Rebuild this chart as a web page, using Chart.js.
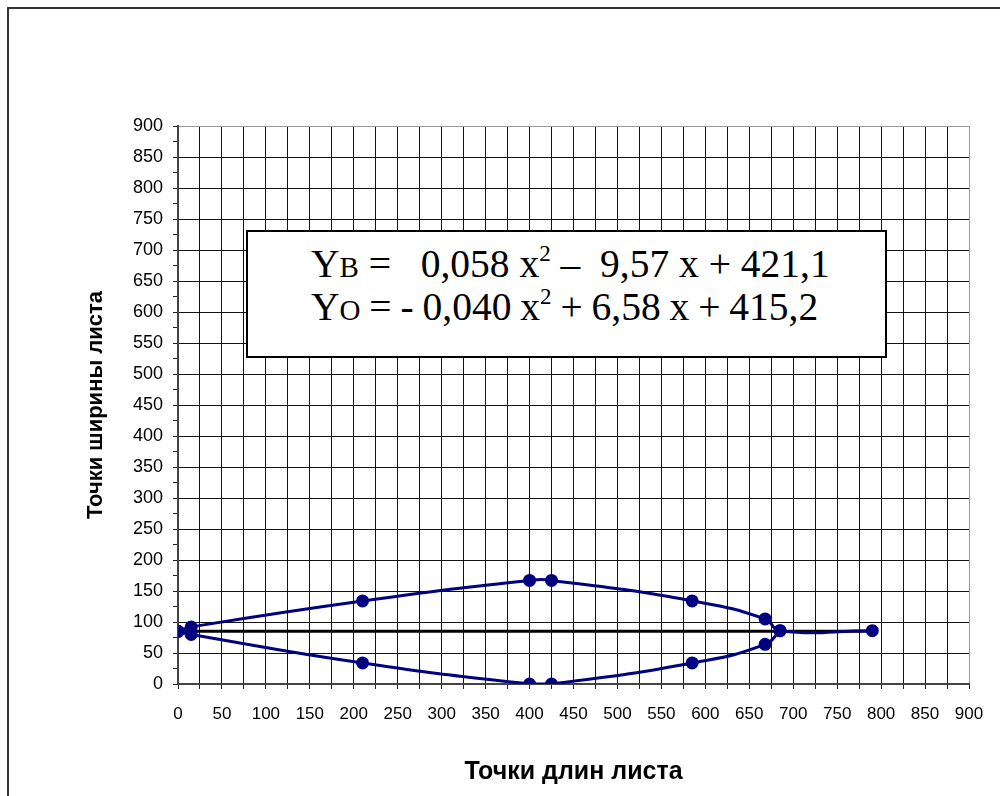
<!DOCTYPE html>
<html>
<head>
<meta charset="utf-8">
<script src="https://cdn.jsdelivr.net/npm/chart.js@4.4.0/dist/chart.umd.min.js"></script>
<style>
  body { margin: 0; background: #fff; }
  #wrap { position: relative; width: 1000px; height: 796px; overflow: hidden; }
  #frame { position: absolute; left: 7px; top: 7px; width: 1100px; height: 900px;
           border-left: 2px solid #333; border-top: 2px solid #333; }
  #eq { position: absolute; left: 246px; top: 230px; width: 637px; height: 124px;
        border: 2px solid #000; background: #fff; color: #000;
        font-family: "Liberation Serif", "Times New Roman", serif; font-size: 39.5px; }
  #eq .ln { position: absolute; left: 63px; white-space: pre; line-height: 1; }
  #eq .sc { font-size: 29px; }
  #eq sup { font-size: 23px; vertical-align: 16px; line-height: 0; }
</style>
</head>
<body>
<div id="wrap">
  <div id="frame"></div>
  <canvas id="myChart" width="1000" height="796"></canvas>
  <div id="eq">
    <div class="ln" style="top:13px">Y<span class="sc">В</span> =   0,058 x<sup>2</sup> –  9,57 x + 421,1</div>
    <div class="ln" style="top:56px;word-spacing:-1px">Y<span class="sc">О</span> = - 0,040 x<sup>2</sup> + 6,58 x + 415,2</div>
  </div>
</div>
<script>
// upper edge of the leaf (Yв)
var upperX = [0, 15, 210, 400, 425, 585, 668, 685, 790];
var upperY = [85, 92, 134, 167, 167, 134, 105, 86, 86];
// lower edge of the leaf (Yо)
var lowerX = [0, 15, 210, 400, 425, 585, 668, 685];
var lowerY = [85, 80, 34, 0, 0, 34, 64, 86];
// middle axis line
var axisX = [0, 790];
var axisY = [85, 85];

function pts(xs, ys) {
  var out = [];
  for (var i = 0; i < xs.length; i++) out.push({x: xs[i], y: ys[i]});
  return out;
}

new Chart("myChart", {
  type: "scatter",
  data: {
    datasets: [
      {
        data: pts(upperX, upperY),
        showLine: true, tension: 0.5,
        borderColor: "#000080", backgroundColor: "#000080",
        borderWidth: 3, pointRadius: 5, pointHoverRadius: 5
      },
      {
        data: pts(lowerX, lowerY),
        showLine: true, tension: 0.5,
        borderColor: "#000080", backgroundColor: "#000080",
        borderWidth: 3, pointRadius: 5, pointHoverRadius: 5
      },
      {
        data: pts(axisX, axisY),
        showLine: true, tension: 0,
        borderColor: "#000", borderWidth: 3, pointRadius: 0
      }
    ]
  },
  options: {
    responsive: false,
    animation: false,
    layout: { padding: { left: 0, right: 31, top: 126, bottom: 0 } },
    plugins: { legend: { display: false }, tooltip: { enabled: false } },
    scales: {
      x: {
        min: 0, max: 900,
        afterFit: function (s) { s.height = 112; },
        ticks: {
          stepSize: 25, autoSkip: false, maxRotation: 0, padding: 15,
          color: "#000", font: { family: "Liberation Sans", size: 17 },
          callback: function (v) { return v % 50 === 0 ? v : ""; }
        },
        grid: {
          color: function (c) { return c.tick && c.tick.value === 900 ? "#999" : "#111"; },
          tickColor: "#222", tickLength: 5
        },
        border: { color: "#444", width: 2 },
        title: {
          display: true, text: "Точки длин листа", color: "#000",
          font: { family: "Liberation Sans", size: 25, weight: "bold" },
          padding: { top: 0, bottom: 9 }
        }
      },
      y: {
        min: 0, max: 900,
        afterFit: function (s) { s.width = 178; },
        ticks: {
          stepSize: 25, autoSkip: false, padding: 10,
          color: "#000", font: { family: "Liberation Sans", size: 18 },
          callback: function (v) { return v % 50 === 0 ? v : ""; }
        },
        grid: {
          color: function (c) {
            if (!c.tick) return "#111";
            if (c.tick.value % 50 !== 0) return "rgba(0,0,0,0)";
            return c.tick.value === 900 ? "#999" : "#111";
          },
          tickColor: "#222", tickLength: 5
        },
        border: { color: "#444", width: 2 },
        title: {
          display: true, text: "Точки ширины листа", color: "#000",
          font: { family: "Liberation Sans", size: 22, weight: "bold" },
          padding: { top: 83, bottom: 0 }
        }
      }
    }
  }
});
</script>
</body>
</html>
